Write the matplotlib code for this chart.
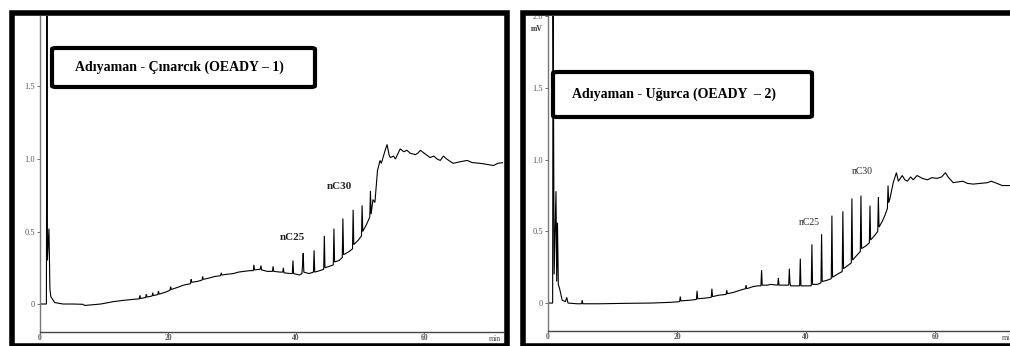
import matplotlib
matplotlib.use("Agg")
from matplotlib import pyplot as plt
from matplotlib.patches import Rectangle, FancyBboxPatch

W, H = 1010, 346

# retention time (min) / signal (mV)
left_t = [0, 1.0, 1.08, 1.15, 1.4, 1.55, 1.7, 2.3, 3.6, 5.0, 6.7, 7.0, 8.0, 9.5, 11.4, 13.0,
          15.2, 15.5, 15.6, 15.7, 16.5, 16.6, 16.7, 17.5, 17.6, 17.7, 18.4, 18.5, 18.6,
          19.5, 20.3, 20.4, 20.5, 21.5, 22.4, 23.5, 23.6, 23.7, 24.5, 25.3, 25.4, 25.5,
          26.5, 27.3, 28.2, 28.3, 28.4, 29.2, 30.2, 31.0, 31.8, 32.8, 33.3, 33.4, 33.5,
          34.4, 34.5, 34.6, 35.5, 36.3, 36.4, 36.5, 37.5, 37.9, 38.0, 38.1, 39.1, 39.4,
          39.5, 39.6, 40.5, 40.9, 41.0, 41.1, 41.2, 42.0, 42.7, 42.8, 42.9, 43.7, 44.3,
          44.4, 44.5, 45.2, 45.8, 45.9, 46.0, 46.7, 47.2, 47.3, 47.4, 48.2, 48.8, 48.9,
          49.0, 49.7, 50.2, 50.3, 50.4, 51.0, 51.5, 51.6, 51.7, 52.0, 52.3, 52.7, 53.1,
          53.3, 53.9, 54.2, 54.5, 54.7, 55.2, 55.5, 56.25, 56.8, 57.3, 57.8, 58.6, 59.0,
          59.4, 60.0, 60.9, 61.5, 62.0, 62.5, 63.0, 63.5, 64.5, 65.5, 66.7, 67.5, 68.75,
          69.5, 70.8, 71.5, 72.3]
left_mv = [0, 0, 2.4, 0.3, 0.52, 0.1, 0.05, 0.01, 0.0, 0.0, -0.002, -0.01, -0.006, 0.0,
           0.016, 0.025, 0.035, 0.035, 0.06, 0.038, 0.045, 0.068, 0.048, 0.055, 0.078,
           0.058, 0.065, 0.09, 0.068, 0.08, 0.095, 0.12, 0.1, 0.115, 0.13, 0.14, 0.17,
           0.15, 0.155, 0.165, 0.19, 0.17, 0.18, 0.19, 0.195, 0.215, 0.2, 0.205, 0.21,
           0.22, 0.225, 0.23, 0.23, 0.27, 0.235, 0.24, 0.265, 0.235, 0.225, 0.225, 0.26,
           0.225, 0.22, 0.22, 0.25, 0.215, 0.21, 0.21, 0.30, 0.21, 0.2, 0.21, 0.27, 0.35,
           0.22, 0.21, 0.22, 0.37, 0.22, 0.23, 0.24, 0.47, 0.25, 0.26, 0.27, 0.52, 0.29,
           0.30, 0.32, 0.59, 0.34, 0.36, 0.38, 0.65, 0.41, 0.44, 0.47, 0.68, 0.5, 0.55,
           0.60, 0.78, 0.62, 0.72, 0.70, 0.92, 0.99, 0.97, 1.06, 1.10, 1.03, 1.01, 1.02,
           1.0, 1.07, 1.05, 1.06, 1.04, 1.03, 1.04, 1.06, 1.04, 1.01, 1.02, 1.0, 0.99,
           1.02, 1.0, 0.97, 0.98, 0.99, 0.975, 0.97, 0.965, 0.955, 0.97, 0.975]

right_t = [0, 0.72, 0.78, 0.95, 1.24, 1.35, 1.47, 1.6, 1.8, 2.2, 2.7, 2.9, 3.1, 4.5, 5.2,
           5.3, 5.4, 8.0, 12.0, 16.0, 19.0, 20.4, 20.5, 20.6, 22.0, 23.0, 23.1, 23.2, 24.5,
           25.3, 25.4, 25.5, 26.5, 27.6, 27.7, 27.8, 28.8, 29.8, 30.6, 30.7, 30.8, 31.8,
           32.5, 33.0, 33.1, 33.2, 34.0, 34.5, 35.6, 35.7, 35.8, 36.5, 37.3, 37.4, 37.5,
           37.6, 38.3, 39.0, 39.1, 39.2, 40.0, 40.8, 40.9, 41.0, 41.7, 42.3, 42.4, 42.5,
           43.3, 43.9, 44.0, 44.1, 44.8, 45.6, 45.7, 45.8, 46.4, 47.0, 47.1, 47.2, 47.8,
           48.4, 48.5, 48.6, 49.3, 49.8, 49.9, 50.0, 50.6, 51.1, 51.2, 51.3, 51.8, 52.2,
           52.6, 52.7, 52.8, 53.0, 53.5, 54.0, 54.3, 54.9, 55.3, 55.7, 56.2, 56.6, 57.2,
           58.0, 58.8, 59.5, 60.3, 61.0, 61.6, 62.0, 62.8, 63.5, 64.3, 65.0, 65.9, 67.0,
           68.1, 68.7, 69.3, 70.4, 71.6]
right_mv = [0, 0, 2.4, 0.2, 0.78, 0.15, 0.56, 0.13, 0.1, 0.02, 0.01, 0.04, 0.0, -0.005,
            -0.005, 0.02, -0.005, -0.005, -0.002, 0.0, 0.005, 0.01, 0.045, 0.015, 0.02,
            0.025, 0.085, 0.03, 0.035, 0.04, 0.1, 0.045, 0.055, 0.06, 0.09, 0.065, 0.075,
            0.09, 0.1, 0.125, 0.1, 0.115, 0.12, 0.12, 0.23, 0.125, 0.125, 0.13, 0.125,
            0.175, 0.125, 0.125, 0.125, 0.24, 0.14, 0.12, 0.12, 0.12, 0.31, 0.12, 0.12,
            0.12, 0.41, 0.13, 0.13, 0.14, 0.48, 0.15, 0.16, 0.17, 0.61, 0.18, 0.20, 0.22,
            0.64, 0.24, 0.26, 0.28, 0.73, 0.30, 0.33, 0.36, 0.75, 0.38, 0.40, 0.42, 0.68,
            0.44, 0.47, 0.50, 0.74, 0.53, 0.57, 0.61, 0.66, 0.82, 0.70, 0.73, 0.84, 0.91,
            0.85, 0.89, 0.86, 0.85, 0.88, 0.86, 0.89, 0.87, 0.86, 0.875, 0.87, 0.88, 0.91,
            0.88, 0.84, 0.845, 0.85, 0.835, 0.83, 0.835, 0.84, 0.85, 0.84, 0.82, 0.82]

x_ticks = [0, 20, 40, 60]
left_yticks = [0, 0.5, 1.0, 1.5]
left_ylabels = ["0", "0.5", "1.0", "1.5"]
right_yticks = [0, 0.5, 1.0, 1.5, 2.0]
right_ylabels = ["0", "0.5", "1.0", "1.5", "2.0"]

titles = ["Adıyaman - Çınarcık (OEADY – 1)", "Adıyaman - Uğurca (OEADY  – 2)"]
peak_labels = ["nC25", "nC30"]
left_label_pos = [(37.5, 0.43), (44.8, 0.78)]
right_label_pos = [(38.8, 0.53), (47.1, 0.89)]


def fx(px):
    return px / W


def fy(py):
    return 1 - py / H


serif = "Liberation Serif"
fig = plt.figure(figsize=(W / 100, H / 100), dpi=100)


def panel(rect, t, mv, xmax, ylim, yticks, ylabels):
    ax = fig.add_axes(rect)
    ax.plot(t, mv, color="black", lw=0.8, solid_joinstyle="miter")
    ax.set_xlim(0, xmax)
    ax.set_ylim(*ylim)
    for s in ["top", "right"]:
        ax.spines[s].set_visible(False)
    ax.spines["left"].set_color("#777777")
    ax.spines["bottom"].set_color("#444444")
    ax.spines["left"].set_linewidth(1.0)
    ax.spines["bottom"].set_linewidth(1.0)
    ax.set_xticks(x_ticks)
    ax.set_xticklabels([str(v) for v in x_ticks], fontsize=5.5, family=serif,
                       fontweight="bold", color="#333333")
    ax.set_yticks(yticks)
    ax.set_yticklabels(ylabels, fontsize=6, family=serif, color="#333333")
    ax.tick_params(axis="y", length=2.5, width=0.6, pad=1, colors="#555555")
    ax.tick_params(axis="x", length=1.2, width=0.6, pad=0.3, colors="#555555")
    return ax


axl = panel([fx(40), fy(332), fx(503) - fx(40), fy(16) - fy(332)],
            left_t, left_mv, 72.3, (-0.193, 1.986), left_yticks, left_ylabels)
axr = panel([fx(548), fy(331), fx(1010) - fx(548), fy(16) - fy(331)],
            right_t, right_mv, 71.6, (-0.195, 2.003), right_yticks, right_ylabels)

axl.text(0.995, -0.008, "min", transform=axl.transAxes, ha="right", va="top",
         fontsize=5.5, family=serif, color="#444444")
axr.text(1.0, -0.008, "mi", transform=axr.transAxes, ha="right", va="top",
         fontsize=5.5, family=serif, color="#444444")
fig.text(fx(537), fy(29), "mV", ha="center", va="center", fontsize=5.5,
         family=serif, fontweight="bold", color="#333333")

for (x, y), lab in zip(left_label_pos, peak_labels):
    axl.text(x, y, lab, ha="left", va="bottom", fontsize=8, family=serif,
             fontweight="bold", color="#222222")
for (x, y), lab in zip(right_label_pos, peak_labels):
    axr.text(x, y, lab, ha="left", va="bottom", fontsize=7, family=serif,
             color="#222222")

# title boxes
boxes = [(52, 48, 315, 87, 179), (553, 72, 812, 117, 674)]
for (x0, y0, x1, y1, xc), title in zip(boxes, titles):
    fig.patches.append(FancyBboxPatch((fx(x0), fy(y1)), fx(x1) - fx(x0), fy(y0) - fy(y1),
                                      boxstyle="round,pad=0,rounding_size=0.004",
                                      transform=fig.transFigure, facecolor="white",
                                      edgecolor="black", lw=3.0, zorder=5))
    fig.text(fx(xc), fy((y0 + y1) / 2), title, ha="center", va="center", fontsize=10,
             family=serif, fontweight="bold", zorder=6)

# thick outer frames
frames = [(12, 13, 506.5, 345.5), (522.5, 13, 1015, 345.5)]
for x0, y0, x1, y1 in frames:
    fig.patches.append(Rectangle((fx(x0), fy(y1)), fx(x1) - fx(x0), fy(y0) - fy(y1),
                                 transform=fig.transFigure, fill=False,
                                 edgecolor="black", lw=4.0, zorder=10))

fig.savefig("out.png", dpi=100, facecolor="white")
